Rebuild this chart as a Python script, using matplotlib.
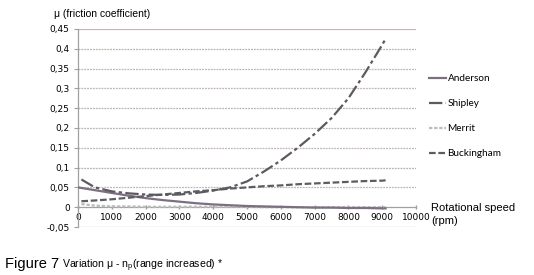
import matplotlib.pyplot as plt

plt.rcParams['mathtext.fontset'] = 'custom'
plt.rcParams['mathtext.rm'] = 'Liberation Sans'

# data
rpm_anderson = [0, 500, 1000, 1500, 2000, 2500, 3000, 3500, 4000, 4500, 5000,
                5500, 6000, 6500, 7000, 7500, 8000, 8500, 9000, 9100]
anderson = [0.050, 0.043, 0.036, 0.029, 0.023, 0.018, 0.014, 0.010, 0.007, 0.005, 0.003,
            0.002, 0.001, 0.000, -0.001, -0.001, -0.002, -0.002, -0.003, -0.003]

rpm = [100, 500, 1000, 1500, 2000, 2500, 3000, 3500, 4000, 4500, 5000,
       5500, 6000, 6500, 7000, 7500, 8000, 8500, 9000, 9100]
shipley = [0.070, 0.050, 0.040, 0.035, 0.032, 0.031, 0.032, 0.036, 0.042, 0.050, 0.065,
           0.090, 0.118, 0.150, 0.185, 0.225, 0.275, 0.340, 0.410, 0.425]
merrit = [0.008, 0.004, 0.002, 0.002, 0.001, 0.001, 0.001, 0.001, 0.001, 0.001, 0.001,
          0.000, 0.000, 0.000, 0.000, 0.000, 0.000, 0.000, 0.000, 0.000]
buckingham = [0.015, 0.017, 0.020, 0.024, 0.028, 0.032, 0.036, 0.040, 0.043, 0.047, 0.050,
              0.053, 0.055, 0.058, 0.060, 0.062, 0.064, 0.066, 0.067, 0.068]

y_ticks = [-0.05, 0, 0.05, 0.1, 0.15, 0.2, 0.25, 0.3, 0.35, 0.4, 0.45]
y_labels = ['-0,05', '0', '0,05', '0,1', '0,15', '0,2', '0,25', '0,3', '0,35', '0,4', '0,45']
x_ticks = [0, 1000, 2000, 3000, 4000, 5000, 6000, 7000, 8000, 9000, 10000]

fig = plt.figure(figsize=(5.34, 2.75), dpi=100)
ax = fig.add_axes([78/534, 1-227/275, (416-78)/534, (227-29)/275])

# gridlines (excel style, soft tints)
grid_colors = ['#b4b8ac', '#c4b4bc', '#b8b8b8']
for i, yv in enumerate(y_ticks):
    if yv == 0:
        continue
    c = grid_colors[i % 3]
    ls = '-' if yv in (0.45, -0.05) else (0, (1.5, 0.8))
    ax.axhline(yv, color=c, lw=0.9, ls=ls, zorder=1)

ax.plot(rpm_anderson, anderson, color='#7e6e82', lw=1.6, label='Anderson', zorder=3)
ax.plot(rpm, shipley, color='#5c5a60', lw=1.6, ls=(0, (6, 1.5, 1.5, 1.5)), label='Shipley', zorder=4)
ax.plot(rpm, merrit, color='#bcbcbc', lw=1.6, ls=(0, (1.5, 0.8)), label='Merrit', zorder=2)
ax.plot(rpm, buckingham, color='#5e5c62', lw=1.6, ls=(0, (3, 1.2)), label='Buckingham', zorder=3)

ax.set_xlim(0, 10000)
ax.set_ylim(-0.05, 0.45)
ax.set_yticks(y_ticks)
ax.set_yticklabels(y_labels, fontsize=6.5, family='DejaVu Sans')
ax.set_xticks(x_ticks)
ax.set_xticklabels([str(v) for v in x_ticks], fontsize=6.5, family='DejaVu Sans')

for s in ['top', 'right', 'bottom']:
    ax.spines[s].set_visible(False)
ax.spines['left'].set_color('#a0a0a0')
ax.spines['left'].set_linewidth(0.9)
ax.axhline(0, color='#a0a0a0', lw=0.9, zorder=1)
ax.tick_params(axis='y', length=3, width=0.8, color='#a0a0a0', pad=3)
ax.tick_params(axis='x', length=3, width=0.8, color='#a0a0a0', pad=-13, direction='out')
# x tick marks sit on the zero line
for t in ax.xaxis.get_major_ticks():
    t.tick1line.set_visible(False)
ax.plot(x_ticks, [0]*len(x_ticks), ls='none', marker='|', ms=3, color='#a0a0a0', zorder=1,
        clip_on=False)

fig.text(54/534, 1-14/275, 'μ (friction coefficient)', fontsize=7.5, family='Liberation Sans',
         va='center', ha='left')
fig.text(431/534, 1-208/275, 'Rotational speed', fontsize=8, family='Liberation Sans', va='center')
fig.text(431/534, 1-221/275, '(rpm)', fontsize=8, family='Liberation Sans', va='center')

leg = ax.legend(loc='upper left', bbox_to_anchor=(420/534, 1-65/275), bbox_transform=fig.transFigure,
                frameon=False, handlelength=1.7, handletextpad=0.15, labelspacing=1.6,
                prop={'family': 'Lato', 'size': 7.2})

fig.text(5/534, 1-268/275, 'Figure 7', fontsize=10.5, family='Liberation Sans', va='baseline')
fig.text(62/534, 1-268/275, r'Variation μ - n$_\mathrm{p}$(range increased) *', fontsize=7.6,
         family='Liberation Sans', va='baseline')

fig.savefig('out.png', dpi=100)
